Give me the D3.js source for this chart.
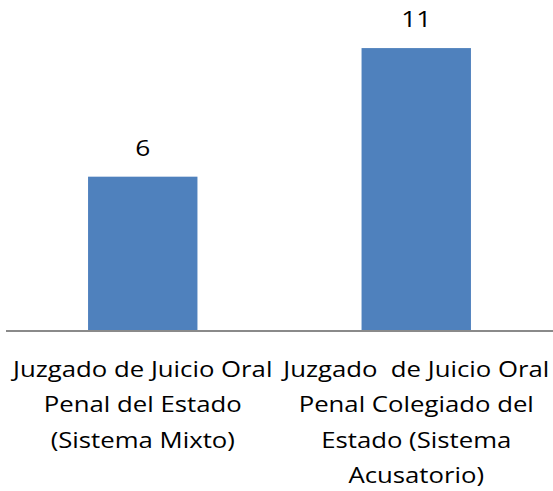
<!DOCTYPE html>
<html>
<head>
<meta charset="utf-8">
<script src="https://cdn.jsdelivr.net/npm/d3@7"></script>
<style>
  html, body { margin: 0; padding: 0; background: #fff; }
  svg { display: block; }
  text { font-family: "Open Sans", Lato, sans-serif; fill: #000; }
</style>
</head>
<body>
<div id="chart"></div>
<script>
const categories = ["Mixto", "Acusatorio"];
const categoryLines = [
  ["Juzgado de Juicio Oral", "Penal del Estado", "(Sistema Mixto)"],
  ["Juzgado  de Juicio Oral", "Penal Colegiado del", "Estado (Sistema", "Acusatorio)"]
];
const values = [6, 11];

const W = 553, H = 491;
const baseY = 331;
const stretch = 1.17;

const svg = d3.select("#chart").append("svg")
  .attr("width", W).attr("height", H);

const x = d3.scaleBand()
  .domain(categories)
  .range([6, 553])
  .paddingInner(0.6)
  .paddingOuter(0.3);

const y = d3.scaleLinear()
  .domain([0, 12])
  .range([baseY, baseY - 12 * 25.72]);

svg.selectAll("rect.bar")
  .data(values)
  .enter().append("rect")
  .attr("class", "bar")
  .attr("x", (d, i) => x(categories[i]))
  .attr("width", x.bandwidth())
  .attr("y", d => y(d))
  .attr("height", d => baseY - y(d))
  .attr("fill", "#4F81BD");

svg.selectAll("text.val")
  .data(values)
  .enter().append("text")
  .attr("class", "val")
  .attr("transform", (d, i) =>
    `translate(${x(categories[i]) + x.bandwidth() / 2},${y(d) - 21}) scale(${stretch},1)`)
  .attr("text-anchor", "middle")
  .style("font-size", "22.5px")
  .text(d => d);

// category axis
const axis = d3.axisBottom(x).tickSize(0).tickFormat("");
const gAxis = svg.append("g").attr("transform", `translate(0,${baseY})`).call(axis);
gAxis.select(".domain").attr("stroke", "#8a8a8a").attr("stroke-width", 2)
  .attr("d", `M6,0H553`);

categories.forEach((c, i) => {
  const t = svg.append("text")
    .attr("transform", `translate(${x(c) + x.bandwidth() / 2},377) scale(${stretch},1)`)
    .attr("text-anchor", "middle")
    .attr("xml:space", "preserve")
    .style("white-space", "pre")
    .style("font-size", "22px");
  categoryLines[i].forEach((line, j) => {
    t.append("tspan")
      .attr("x", 0)
      .attr("y", j * 35.5)
      .text(line);
  });
});
</script>
</body>
</html>
